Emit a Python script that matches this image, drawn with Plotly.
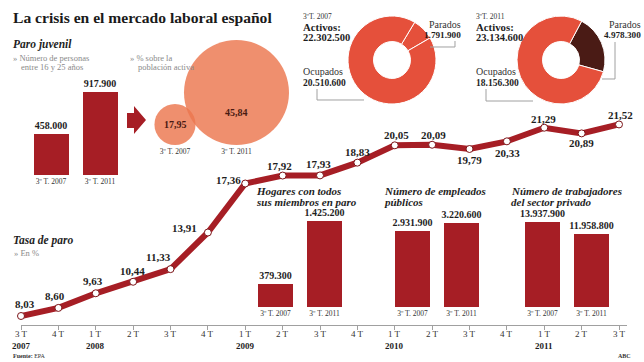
import plotly.graph_objects as go

W, H = 644, 362

# ---------------- data ----------------
quarters = ["3 T", "4 T", "1 T", "2 T", "3 T", "4 T", "1 T", "2 T", "3 T",
            "4 T", "1 T", "2 T", "3 T", "4 T", "1 T", "2 T", "3 T"]
years = ["2007", "", "2008", "", "", "", "2009", "", "", "",
         "2010", "", "", "", "2011", "", ""]
tasa_paro = [8.03, 8.60, 9.63, 10.44, 11.33, 13.91, 17.36, 17.92, 17.93,
             18.83, 20.05, 20.09, 19.79, 20.33, 21.29, 20.89, 21.52]

periods = ["3º T. 2007", "3º T. 2011"]
paro_juvenil = [458000, 917900]
paro_juvenil_pct = [17.95, 45.84]
hogares_paro = [379300, 1425200]
empleados_publicos = [2931900, 3220600]
trabajadores_privado = [13937900, 11958800]
activos = [22302500, 23134600]
ocupados = [20510600, 18156300]
parados = [1791900, 4978300]

# label offsets for the line values (px: dx, dy up)
label_offsets = [(4, 12), (-3, 12), (-3, 12), (-1, 11), (-12, 12), (-23, 5),
                 (-17, 4), (-3, 10), (-2, 11), (0, 11), (2, 10), (1, 10),
                 (0, -11), (1, -12), (-1, 9), (0, -10), (1, 9)]

# ---------------- style ----------------
RED = "#a61e25"
DONUT_RED = "#e5503b"
DONUT_DARK = "#4a1b15"
BUBBLE = "rgba(236,118,78,0.82)"
GRAY = "#8a8a8a"
LINEGRAY = "#a0a0a0"
TXT = "#1e1e1e"
FONT = "Liberation Serif"


def fx(px):
    return px / W


def fy(py):
    return 1 - py / H


def es_int(v):
    return f"{v:,}".replace(",", ".")


def es_dec(v):
    return f"{v:.2f}".replace(".", ",")


fig = go.Figure()
annotations = []
shapes = []


def note(text, x, y, size=9, color=TXT, xanchor="left", yanchor="middle"):
    annotations.append(dict(text=text, x=fx(x), y=fy(y), xref="paper", yref="paper",
                            xanchor=xanchor, yanchor=yanchor, showarrow=False,
                            borderpad=0,
                            font=dict(family=FONT, size=size, color=color)))


# ---------------- main line: tasa de paro ----------------
PXU = 37.375           # px per quarter
YS = 14.2              # px per percentage point
x0_px, xend_px = 21, 627
axis_px = 325
ybot = 8.03 - (axis_px - 316) / YS
ytop = ybot + axis_px / YS

fig.add_trace(go.Scatter(
    x=list(range(len(tasa_paro))), y=tasa_paro, mode="lines+markers",
    line=dict(color=RED, width=6),
    marker=dict(size=7, color="white", opacity=1, line=dict(color="#7c1519", width=1)),
    cliponaxis=False, hoverinfo="skip", xaxis="x", yaxis="y"))

for i, v in enumerate(tasa_paro):
    dx, dy = label_offsets[i]
    annotations.append(dict(text=f"<b>{es_dec(v)}</b>", x=i, y=v, xref="x", yref="y",
                            showarrow=False, xshift=dx, yshift=dy,
                            font=dict(family=FONT, size=11, color=TXT)))

for i, (q, y) in enumerate(zip(quarters, years)):
    annotations.append(dict(text=q, x=i, y=fy(334), xref="x", yref="paper",
                            showarrow=False, yanchor="middle",
                            font=dict(family=FONT, size=9, color="#333")))
    if y:
        annotations.append(dict(text=f"<b>{y}</b>", x=i, y=fy(346), xref="x", yref="paper",
                                showarrow=False, yanchor="middle",
                                font=dict(family=FONT, size=9, color=TXT)))

layout_axes = dict(
    xaxis=dict(domain=[fx(x0_px), fx(xend_px)], range=[0, (xend_px - x0_px) / PXU],
               tickvals=list(range(len(quarters))), showticklabels=False,
               showline=True, linecolor=LINEGRAY, linewidth=1, ticks="outside",
               ticklen=4, tickcolor=LINEGRAY, showgrid=False, zeroline=False,
               fixedrange=True),
    yaxis=dict(domain=[fy(axis_px), 1], range=[ybot, ytop], visible=False,
               fixedrange=True),
)


# ---------------- small bar charts ----------------
def bar_chart(n, values, x_left, x_right, y_bottom, y_top):
    fig.add_trace(go.Bar(
        x=periods, y=values, width=0.71, marker=dict(color=RED, line=dict(width=0)),
        text=[f"<b>{es_int(v)}</b>" for v in values], textposition="outside",
        constraintext="none", cliponaxis=False,
        textfont=dict(family=FONT, size=10, color=TXT),
        hoverinfo="skip", xaxis=f"x{n}", yaxis=f"y{n}"))
    layout_axes[f"xaxis{n}"] = dict(domain=[fx(x_left), fx(x_right)], type="category",
                                    anchor=f"y{n}", showline=False, showgrid=False,
                                    zeroline=False, ticks="",
                                    tickfont=dict(family=FONT, size=7.5, color="#333"),
                                    fixedrange=True)
    layout_axes[f"yaxis{n}"] = dict(domain=[fy(y_bottom), fy(y_top)],
                                    range=[0, max(values)], anchor=f"x{n}",
                                    visible=False, fixedrange=True)


bar_chart(3, paro_juvenil, 26.5, 124.5, 175, 92)
bar_chart(4, hogares_paro, 251, 349, 307, 221)
bar_chart(5, empleados_publicos, 388, 486, 307, 223)
bar_chart(6, trabajadores_privado, 518, 616, 307, 222)

# ---------------- bubbles: % sobre la población activa ----------------
k = 52.5 / max(paro_juvenil_pct)          # px radius per percentage point
radii = [v * k for v in paro_juvenil_pct]
bx_l, bx_r = 140, 300
c0, c1 = 175, 236.5
u = c1 - c0
fig.add_trace(go.Scatter(
    x=[0, 1], y=radii, mode="markers",
    marker=dict(size=[2 * r for r in radii], sizemode="diameter", color=BUBBLE,
                opacity=1, line=dict(width=0)),
    cliponaxis=False, hoverinfo="skip", xaxis="x7", yaxis="y7"))
layout_axes["xaxis7"] = dict(domain=[fx(bx_l), fx(bx_r)],
                             range=[(bx_l - c0) / u, (bx_r - c0) / u],
                             anchor="y7", tickvals=[0, 1], ticktext=periods,
                             showline=False, showgrid=False, zeroline=False, ticks="",
                             tickfont=dict(family=FONT, size=7.5, color="#333"),
                             fixedrange=True)
layout_axes["yaxis7"] = dict(domain=[fy(145), fy(35)], range=[0, 110], anchor="x7",
                             visible=False, fixedrange=True)
bubble_label_shift = [0, -20]
for i, v in enumerate(paro_juvenil_pct):
    annotations.append(dict(text=f"<b>{es_dec(v)}</b>", x=i, y=radii[i], xref="x7",
                            yref="y7", showarrow=False, yshift=bubble_label_shift[i],
                            font=dict(family=FONT, size=10, color="#4a1a12")))

# ---------------- donuts ----------------
donut_pos = [(392, 60), (561, 60)]
R = 44
rotations = [31, 28]
parados_colors = [DONUT_RED, DONUT_DARK]
for i in range(2):
    cx, cy = donut_pos[i]
    fig.add_trace(go.Pie(
        values=[parados[i], ocupados[i]], labels=["Parados", "Ocupados"],
        hole=0.42, sort=False, direction="clockwise", rotation=rotations[i],
        marker=dict(colors=[parados_colors[i], DONUT_RED],
                    line=dict(color="white", width=1)),
        textinfo="none", hoverinfo="skip", showlegend=False,
        domain=dict(x=[fx(cx - R), fx(cx + R)], y=[fy(cy + R), fy(cy - R)])))

# donut texts
donut_text_x = [302, 475]
parados_right = [462, 642]
for i in range(2):
    lx = donut_text_x[i]
    note(periods[i].replace(" T.", "T."), lx, 16, size=7.5, color="#333")
    note("<b>Activos:</b>", lx, 27, size=10.8)
    note(f"<b>{es_int(activos[i])}</b>", lx, 38, size=10.5)
    note("Ocupados", lx, 72, size=10, color="#333")
    note(f"<b>{es_int(ocupados[i])}</b>", lx, 83, size=9.5)
    note("Parados", parados_right[i], 24, size=10, color="#333", xanchor="right")
    note(f"<b>{es_int(parados[i])}</b>", parados_right[i], 35, size=9.2, xanchor="right")

# leader lines
leaders = [
    [(317, 89), (317, 100), (364, 100)],
    [(430, 47), (455, 47), (455, 41)],
    [(486, 89), (486, 101), (533, 101)],
    [(602, 79), (615, 79), (615, 42)],
]
for pts in leaders:
    path = "M " + " L ".join(f"{fx(a):.5f},{fy(b):.5f}" for a, b in pts)
    shapes.append(dict(type="path", path=path, xref="paper", yref="paper",
                       line=dict(color=LINEGRAY, width=1)))

# arrow between bars and bubbles
arrow = [(127, 113), (134, 113), (134, 106), (146, 120), (134, 134), (134, 128), (127, 128)]
shapes.append(dict(type="path", xref="paper", yref="paper",
                   path="M " + " L ".join(f"{fx(a):.5f},{fy(b):.5f}" for a, b in arrow) + " Z",
                   fillcolor=RED, line=dict(width=0)))

# ---------------- texts ----------------
note("<b>La crisis en el mercado laboral español</b>", 12, 17, size=15.6, color="#1a1a1a")
note("<b><i>Paro juvenil</i></b>", 12, 44, size=11.5)
note("» Número de personas", 12, 58, size=8.5, color=GRAY)
note("entre 16 y 25 años", 20, 67, size=8.5, color=GRAY)
note("» % sobre la", 129, 58, size=8.5, color=GRAY)
note("población activa", 137, 67, size=8.5, color=GRAY)
note("<b><i>Tasa de paro</i></b>", 12, 240, size=11.5)
note("» En %", 13, 253, size=8.5, color=GRAY)
note("<b><i>Hogares con todos</i></b>", 255, 191, size=11)
note("<b><i>sus miembros en paro</i></b>", 255, 202, size=11)
note("<b><i>Número de empleados</i></b>", 383, 191, size=11)
note("<b><i>públicos</i></b>", 383, 202, size=11)
note("<b><i>Número de trabajadores</i></b>", 510, 191, size=11)
note("<b><i>del sector privado</i></b>", 510, 202, size=11)
note("<b>Fuente:</b> EPA", 12, 356, size=6, color="#333")
note("<b>ABC</b>", 632, 356, size=6, color="#333", xanchor="right")

fig.update_layout(
    width=W, height=H, margin=dict(l=0, r=0, t=0, b=0),
    paper_bgcolor="white", plot_bgcolor="rgba(0,0,0,0)",
    showlegend=False, annotations=annotations, shapes=shapes,
    font=dict(family=FONT, color=TXT), bargap=0,
    **layout_axes)

fig.write_html("out.html", config={"displayModeBar": False},
               post_script="document.body.style.margin='0';"
                           "document.body.style.overflow='hidden';")
